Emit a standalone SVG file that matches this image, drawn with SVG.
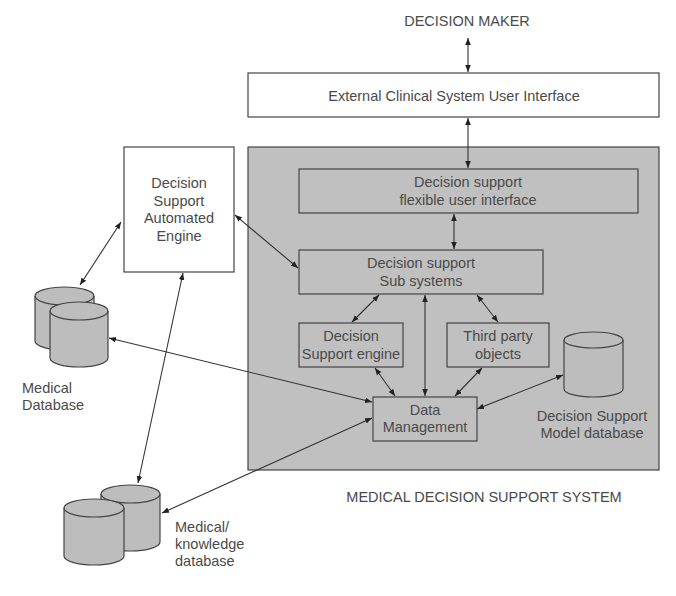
<svg xmlns="http://www.w3.org/2000/svg" width="676" height="596" viewBox="0 0 676 596">
<style>
text{font-family:"Liberation Sans",Arial,sans-serif;font-size:14.5px;fill:#4a4a4a;text-anchor:middle}
.box{fill:#fff;stroke:#444;stroke-width:1.2}
.gbox{fill:#c0c0c0;stroke:#444;stroke-width:1.2}
.cyl{fill:#bdbdbd;stroke:#444;stroke-width:1.2}
.c line{stroke:#333;stroke-width:1.1;marker-start:url(#ah);marker-end:url(#ah)}
.lt{text-anchor:start}
</style>
<defs>
<marker id="ah" viewBox="0 0 10 10" refX="10" refY="5" markerWidth="7" markerHeight="7" markerUnits="userSpaceOnUse" orient="auto-start-reverse">
<path d="M0,1 L10,5 L0,9 Z" fill="#222"/>
</marker>
</defs>
<rect width="676" height="596" fill="#fff"/>
<g id="system">
<rect class="gbox" x="248" y="147" width="411" height="323"/>
<text x="484" y="502">MEDICAL DECISION SUPPORT SYSTEM</text>
</g>
<g id="decision-maker"><text x="467" y="26">DECISION MAKER</text></g>
<g id="external-ui">
<rect class="box" x="248" y="73" width="411" height="44"/>
<text x="454" y="101">External Clinical System User Interface</text>
</g>
<g id="flexible-ui">
<rect class="gbox" x="299" y="169" width="339" height="44"/>
<text x="468" y="187">Decision support</text>
<text x="468" y="205">flexible user interface</text>
</g>
<g id="sub-systems">
<rect class="gbox" x="299" y="250" width="244" height="44"/>
<text x="421" y="268">Decision support</text>
<text x="421" y="286">Sub systems</text>
</g>
<g id="ds-engine">
<rect class="gbox" x="299" y="323" width="104" height="44"/>
<text x="351" y="341">Decision</text>
<text x="351" y="359">Support engine</text>
</g>
<g id="third-party">
<rect class="gbox" x="447" y="323" width="102" height="44"/>
<text x="498" y="341">Third party</text>
<text x="498" y="359">objects</text>
</g>
<g id="data-management">
<rect class="gbox" x="373" y="397" width="104" height="44"/>
<text x="425" y="415">Data</text>
<text x="425" y="432">Management</text>
</g>
<g id="model-db">
<path class="cyl" d="M564,340 A29.5,8 0 0 1 623,340 L623,389 A29.5,8 0 0 1 564,389 Z"/>
<path d="M564,340 A29.5,8 0 0 0 623,340" fill="none" stroke="#444" stroke-width="1.2"/>
<text x="592" y="421">Decision Support</text>
<text x="592" y="438">Model database</text>
</g>
<g id="dsae">
<rect class="box" x="124" y="147" width="110" height="125"/>
<text x="179" y="188">Decision</text>
<text x="179" y="206">Support</text>
<text x="179" y="223">Automated</text>
<text x="179" y="241">Engine</text>
</g>
<g id="medical-db">
<path class="cyl" d="M35,296 A29.5,9 0 0 1 94,296 L94,341 A29.5,9 0 0 1 35,341 Z"/>
<path d="M35,296 A29.5,9 0 0 0 94,296" fill="none" stroke="#444" stroke-width="1.2"/>
<path class="cyl" d="M50,311 A29,9 0 0 1 108,311 L108,358 A29,9 0 0 1 50,358 Z"/>
<path d="M50,311 A29,9 0 0 0 108,311" fill="none" stroke="#444" stroke-width="1.2"/>
<text class="lt" x="22" y="393">Medical</text>
<text class="lt" x="22" y="410">Database</text>
</g>
<g id="knowledge-db">
<path class="cyl" d="M101,494 A29.5,9 0 0 1 160,494 L160,542 A29.5,9 0 0 1 101,542 Z"/>
<path d="M101,494 A29.5,9 0 0 0 160,494" fill="none" stroke="#444" stroke-width="1.2"/>
<path class="cyl" d="M64,508 A30,9 0 0 1 124,508 L124,556 A30,9 0 0 1 64,556 Z"/>
<path d="M64,508 A30,9 0 0 0 124,508" fill="none" stroke="#444" stroke-width="1.2"/>
<text class="lt" x="175" y="532">Medical/</text>
<text class="lt" x="175" y="549">knowledge</text>
<text class="lt" x="175" y="566">database</text>
</g>
<g id="connectors" class="c">
<line x1="468" y1="38" x2="468" y2="72"/>
<line x1="468" y1="118" x2="468" y2="168"/>
<line x1="454" y1="214" x2="454" y2="249"/>
<line x1="379" y1="295" x2="352" y2="322"/>
<line x1="425" y1="295" x2="425" y2="396"/>
<line x1="477" y1="295" x2="498" y2="322"/>
<line x1="375" y1="368" x2="395" y2="396"/>
<line x1="482" y1="368" x2="455" y2="396"/>
<line x1="477" y1="409" x2="563" y2="375"/>
<line x1="109" y1="338" x2="372" y2="402"/>
<line x1="162" y1="513" x2="372" y2="418"/>
<line x1="235" y1="215" x2="298" y2="268"/>
<line x1="121" y1="222" x2="80" y2="285"/>
<line x1="183" y1="273" x2="138" y2="483"/>
</g>
</svg>
